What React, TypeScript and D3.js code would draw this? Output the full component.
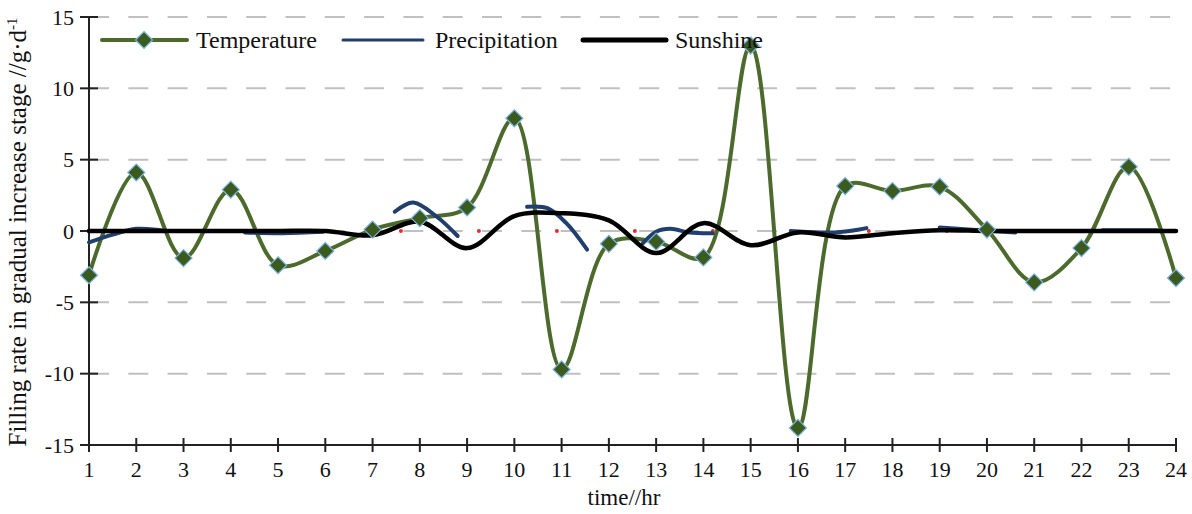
import React from "react";
import * as d3 from "d3";

const hours = [1,2,3,4,5,6,7,8,9,10,11,12,13,14,15,16,17,18,19,20,21,22,23,24];
const temperature = [-3.1,4.1,-1.9,2.9,-2.4,-1.4,0.1,0.9,1.65,7.9,-9.7,-0.9,-0.75,-1.85,13.0,-13.8,3.15,2.8,3.1,0.1,-3.6,-1.2,4.5,-3.3];
const sunshine = [0,0,0,0,0,0,-0.3,0.65,-1.2,1.05,1.25,0.75,-1.55,0.55,-1.0,-0.1,-0.45,-0.15,0.05,0,0,0,0,0];
const precipSegments: [number, number][][] = [
  [[1,-0.8],[1.5,-0.25],[2,0.15],[2.3,0.12],[2.62,0]],
  [[4.3,-0.1],[5.1,-0.15],[5.95,-0.05]],
  [[7.47,1.35],[7.86,2.0],[8.36,1.0],[8.8,-0.35]],
  [[10.27,1.7],[10.7,1.6],[11.1,0.55],[11.54,-1.3]],
  [[12.72,-0.85],[13.0,-0.05],[13.3,0.15],[13.7,-0.1],[14.2,-0.15]],
  [[15.85,0],[16.8,-0.1],[17.3,0.1],[17.45,0.2]],
  [[19.0,0.25],[19.6,0.1],[20.6,-0.1]],
  [[22.45,0.05],[23.6,0.05]],
];
const redDotX = [1,2.65,4.3,5.95,7.6,9.25,10.9,12.55,14.2,15.85,17.5,19.15,20.8,22.45];
const yTicks = [-15,-10,-5,0,5,10,15];
const gridTicks = [-10,-5,0,5,10,15];

const W = 1192, H = 514;
const X0 = 89, X1 = 1176, Y0 = 445, Y1 = 17;
const FONT = "'Liberation Serif', 'Times New Roman', serif";

export default function App() {
  const x = d3.scaleLinear().domain([1, 24]).range([X0, X1]);
  const y = d3.scaleLinear().domain([-15, 15]).range([Y0, Y1]);
  const curve = d3.curveCatmullRom.alpha(0.5);
  const line = d3.line<[number, number]>().x(d => x(d[0])).y(d => y(d[1])).curve(curve);
  const tempPts: [number, number][] = hours.map((h, i) => [h, temperature[i]]);
  const sunPts: [number, number][] = hours.map((h, i) => [h, sunshine[i]]);
  const diamond = "M0,-8.5L8.5,0L0,8.5L-8.5,0Z";
  const green = "#4b6a2c";
  const mFill = "#3a5a1e";
  const mStroke = "#7cb4e4";
  const blue = "#203f6e";

  return (
    <svg width={W} height={H} style={{ position: "absolute", left: 0, top: 0, background: "#fff" }} fontFamily={FONT}>
      {gridTicks.map(t => (
        <line key={t} x1={X0} x2={X1} y1={y(t)} y2={y(t)} stroke="#c0c0c0" strokeWidth={2} strokeDasharray="20 19.3" />
      ))}
      {redDotX.map((v, i) => (
        <circle key={i} cx={x(v)} cy={y(0)} r={2} fill="#e03030" />
      ))}
      <line x1={X0} x2={X0} y1={Y1} y2={Y0} stroke="#222" strokeWidth={2} />
      <line x1={X0} x2={X1} y1={Y0} y2={Y0} stroke="#222" strokeWidth={2} />
      {yTicks.map(t => (
        <g key={t}>
          <line x1={X0 - 9} x2={X0 + 9} y1={y(t)} y2={y(t)} stroke="#222" strokeWidth={2} />
          <text x={74} y={y(t)} dy="0.35em" textAnchor="end" fontSize={22} fill="#111">{t}</text>
        </g>
      ))}
      {hours.map(h => (
        <g key={h}>
          <line x1={x(h)} x2={x(h)} y1={Y0 - 7} y2={Y0 + 7} stroke="#222" strokeWidth={2} />
          <text x={x(h)} y={469} dy="0.35em" textAnchor="middle" fontSize={22} fill="#111">{h}</text>
        </g>
      ))}
      <text x={624} y={497} dy="0.35em" textAnchor="middle" fontSize={23} fill="#111">time//hr</text>
      <text transform={`translate(26,${(Y0 + Y1) / 2 + 1}) rotate(-90)`} textAnchor="middle" fontSize={25} fill="#111">
        Filling rate in gradual increase stage //g·d<tspan dy="-9" fontSize={15}>-1</tspan>
      </text>
      <path d={line(tempPts) || ""} fill="none" stroke={green} strokeWidth={4} />
      {precipSegments.map((seg, i) => (
        <path key={i} d={line(seg) || ""} fill="none" stroke={blue} strokeWidth={4} strokeLinecap="round" />
      ))}
      <path d={line(sunPts) || ""} fill="none" stroke="#000" strokeWidth={4.5} strokeLinecap="round" />
      {tempPts.map((p, i) => (
        <path key={i} d={diamond} transform={`translate(${x(p[0])},${y(p[1])})`} fill={mFill} stroke={mStroke} strokeWidth={1.2} />
      ))}
      <g>
        <line x1={102} x2={187} y1={40} y2={40} stroke={green} strokeWidth={4} strokeLinecap="round" />
        <path d={diamond} transform="translate(144,40)" fill={mFill} stroke={mStroke} strokeWidth={1.2} />
        <text x={196} y={40} dy="0.35em" fontSize={24} fill="#111">Temperature</text>
        <line x1={343} x2={423} y1={40} y2={40} stroke={blue} strokeWidth={3} strokeLinecap="round" />
        <text x={435} y={40} dy="0.35em" fontSize={24} fill="#111">Precipitation</text>
        <line x1={583} x2={666} y1={40} y2={40} stroke="#000" strokeWidth={5} strokeLinecap="round" />
        <text x={675} y={40} dy="0.35em" fontSize={24} fill="#111">Sunshine</text>
      </g>
    </svg>
  );
}
